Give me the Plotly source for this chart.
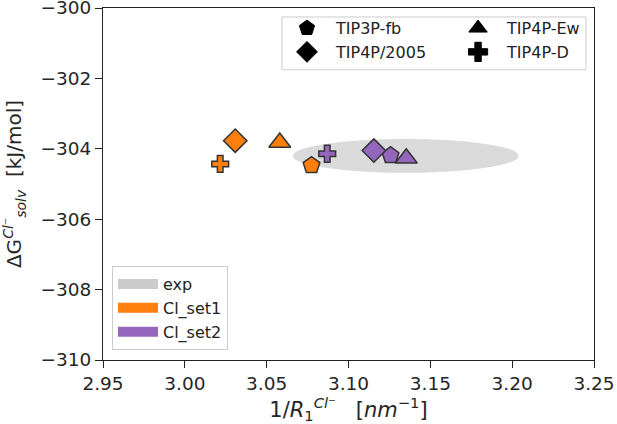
import plotly.graph_objects as go

# ---- data ----
models = ["TIP3P-fb", "TIP4P/2005", "TIP4P-Ew", "TIP4P-D"]
model_symbols = ["pentagon", "diamond", "triangle-up", "cross"]
set1_x = [3.0774, 3.0308, 3.0580, 3.0216]
set1_y = [-304.47, -303.77, -303.82, -304.43]
set2_x = [3.1257, 3.1155, 3.1353, 3.0870]
set2_y = [-304.19, -304.05, -304.27, -304.14]
exp_x, exp_y = 3.135, -304.2
exp_dx, exp_dy = 0.069, 0.48
x_ticks = [2.95, 3.00, 3.05, 3.10, 3.15, 3.20, 3.25]
y_ticks = [-310, -308, -306, -304, -302, -300]

ORANGE = "#ff7f0e"
PURPLE = "#9467bd"
GRAY = "#d6d6d6"
EDGE = "#333333"
FONT = "DejaVu Sans"
sizes = {"pentagon": 17.5, "diamond": 18, "triangle-up": 19, "cross": 14}

fig = go.Figure()

# data points
for xs, ys, col in [(set1_x, set1_y, ORANGE), (set2_x, set2_y, PURPLE)]:
    for i, m in enumerate(models):
        sym = model_symbols[i]
        fig.add_trace(go.Scatter(
            x=[xs[i]], y=[ys[i]], mode="markers", showlegend=False,
            marker=dict(symbol=sym, size=sizes[sym], color=col,
                        line=dict(color=EDGE, width=1.5)),
            hoverinfo="skip"))

# shape legend (two columns)
for i, m in enumerate(models):
    sym = model_symbols[i]
    fig.add_trace(go.Scatter(
        x=[None], y=[None], mode="markers", name=m,
        legend="legend" if i < 2 else "legend2",
        marker=dict(symbol=sym, size=16, color="black",
                    line=dict(color="black", width=1))))

# color legend
for name, col in [("exp", "#cccccc"), ("Cl_set1", ORANGE), ("Cl_set2", PURPLE)]:
    fig.add_trace(go.Scatter(
        x=[None], y=[None], mode="lines", name=name, legend="legend3",
        line=dict(color=col, width=10)))

# experimental ellipse
fig.add_shape(type="circle", xref="x", yref="y",
              x0=exp_x - exp_dx, x1=exp_x + exp_dx,
              y0=exp_y - exp_dy, y1=exp_y + exp_dy,
              fillcolor=GRAY, opacity=0.9, line=dict(width=0), layer="below")

# box around the marker-shape legend
fig.add_shape(type="rect", xref="paper", yref="paper",
              x0=0.3646, x1=0.9837, y0=0.8244, y1=0.9745,
              line=dict(color="#cccccc", width=1), fillcolor="white",
              layer="below")

axis_common = dict(showline=True, linecolor="#222222", linewidth=1.2, mirror=True,
                   ticks="outside", ticklen=7, tickwidth=1.2, tickcolor="#222222",
                   showgrid=False, zeroline=False, ticklabeloverflow="allow",
                   automargin=False,
                   tickfont=dict(family=FONT, size=18.5, color="#262626"))

leg_font = dict(family=FONT, size=16, color="#222")
fig.update_layout(
    width=617, height=424,
    margin=dict(l=103, r=23, t=8, b=64),
    paper_bgcolor="white", plot_bgcolor="white",
    font=dict(family=FONT, color="#262626"),
    xaxis=dict(range=[2.95, 3.25], tickvals=x_ticks, tickformat=".2f",
               title=dict(text="1/<i>R</i><sub>1</sub><sup><i>Cl</i>⁻</sup>   [<i>nm</i><sup>−1</sup>]",
                          font=dict(family=FONT, size=21), standoff=6),
               **axis_common),
    yaxis=dict(range=[-310, -300], tickvals=y_ticks,
               title=dict(text="ΔG<sup><i>Cl</i>⁻</sup><sub><i>solv</i></sub>  [kJ/mol]",
                          font=dict(family=FONT, size=20), standoff=16),
               **axis_common),
    legend=dict(x=0.3564, y=0.991, xanchor="left", yanchor="top", itemwidth=48,
                bgcolor="rgba(0,0,0,0)", borderwidth=0, font=leg_font),
    legend2=dict(x=0.7048, y=0.991, xanchor="left", yanchor="top", itemwidth=48,
                 bgcolor="rgba(0,0,0,0)", borderwidth=0, font=leg_font),
    legend3=dict(x=0.0183, y=0.028, xanchor="left", yanchor="bottom", itemwidth=40,
                 bgcolor="white", bordercolor="#cccccc", borderwidth=1, font=leg_font),
)

fig.write_html("out.html", config={"displayModeBar": False},
               post_script="document.body.style.margin='0';")
